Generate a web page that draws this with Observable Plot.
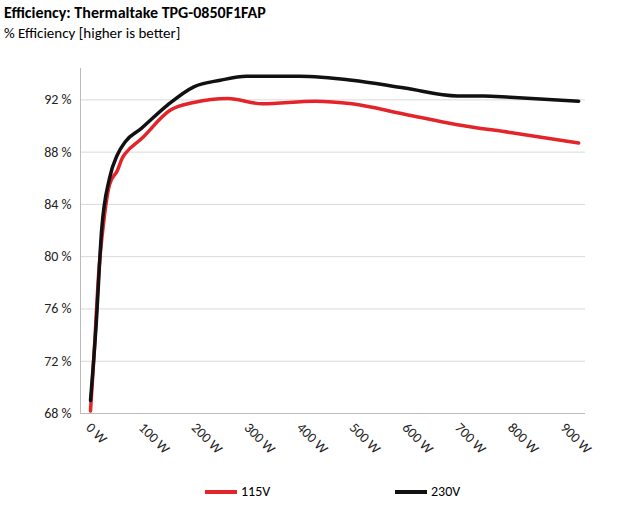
<!DOCTYPE html><html><head><meta charset="utf-8">
<script src="https://cdn.jsdelivr.net/npm/d3@7"></script>
<script src="https://cdn.jsdelivr.net/npm/@observablehq/plot@0.6"></script>
<style>body{margin:0;font-family:Calibri,"Liberation Sans",Carlito,Arial,sans-serif;background:#fff}
#t{position:absolute;left:4px;top:3px;font-weight:bold;font-size:16px}
#s{position:absolute;left:4px;top:24px;font-size:15px}
#c{position:absolute;left:0;top:48px}
#l{position:absolute;top:483px;left:0;width:631px;font-size:14px}
.k{position:absolute;display:flex;align-items:center}
.k span{display:inline-block;width:32px;height:4px;margin-right:4px}</style></head><body>
<div id="t">Efficiency: Thermaltake TPG-0850F1FAP</div>
<div id="s">% Efficiency [higher is better]</div>
<div id="c"></div>
<div id="l"><div class="k" style="left:205px"><span style="background:#e3242b"></span>115V</div><div class="k" style="left:395px"><span style="background:#111"></span>230V</div></div>
<script>
const w115=[4,10,20,30,40,55,65,70,100,155,200,265,330,430,500,600,700,800,930];
const e115=[68.2,72,79,83,85.5,86.6,87.6,87.9,89,91.2,91.8,92.1,91.7,91.9,91.7,90.9,90.1,89.5,88.7];
const w230=[4,15,25,40,55,70,100,150,200,250,300,400,500,600,700,750,800,930];
const e230=[69,75,82,86,87.8,88.8,89.8,91.6,93,93.5,93.8,93.8,93.5,92.9,92.3,92.3,92.2,91.9];
const xTicks=[0,100,200,300,400,500,600,700,800,900];
const yTicks=[68,72,76,80,84,88,92];
const d115=w115.map((w,i)=>({w,e:e115[i]})), d230=w230.map((w,i)=>({w,e:e230[i]}));
const p=Plot.plot({width:631,height:430,marginLeft:80,marginRight:46,marginTop:20,marginBottom:65,
style:{fontFamily:"Calibri,'Liberation Sans',Carlito,Arial,sans-serif",fontSize:"14px",color:"#222"},
x:{domain:[-15,943],ticks:xTicks,tickFormat:d=>d+" W",tickRotate:45,tickSize:0,label:null},
y:{domain:[68,94.4],ticks:yTicks,tickFormat:d=>d+" %",tickSize:0,label:null},
marks:[Plot.gridY(yTicks,{stroke:"#d9d9d9",strokeOpacity:1}),
Plot.ruleX([-15],{stroke:"#bbb"}),Plot.ruleY([68],{stroke:"#bbb"}),
Plot.line(d115,{x:"w",y:"e",stroke:"#e3242b",strokeWidth:3.5,curve:"monotone-x"}),
Plot.line(d230,{x:"w",y:"e",stroke:"#111",strokeWidth:3.5,curve:"monotone-x"})]});
document.getElementById("c").append(p);
</script></body></html>
